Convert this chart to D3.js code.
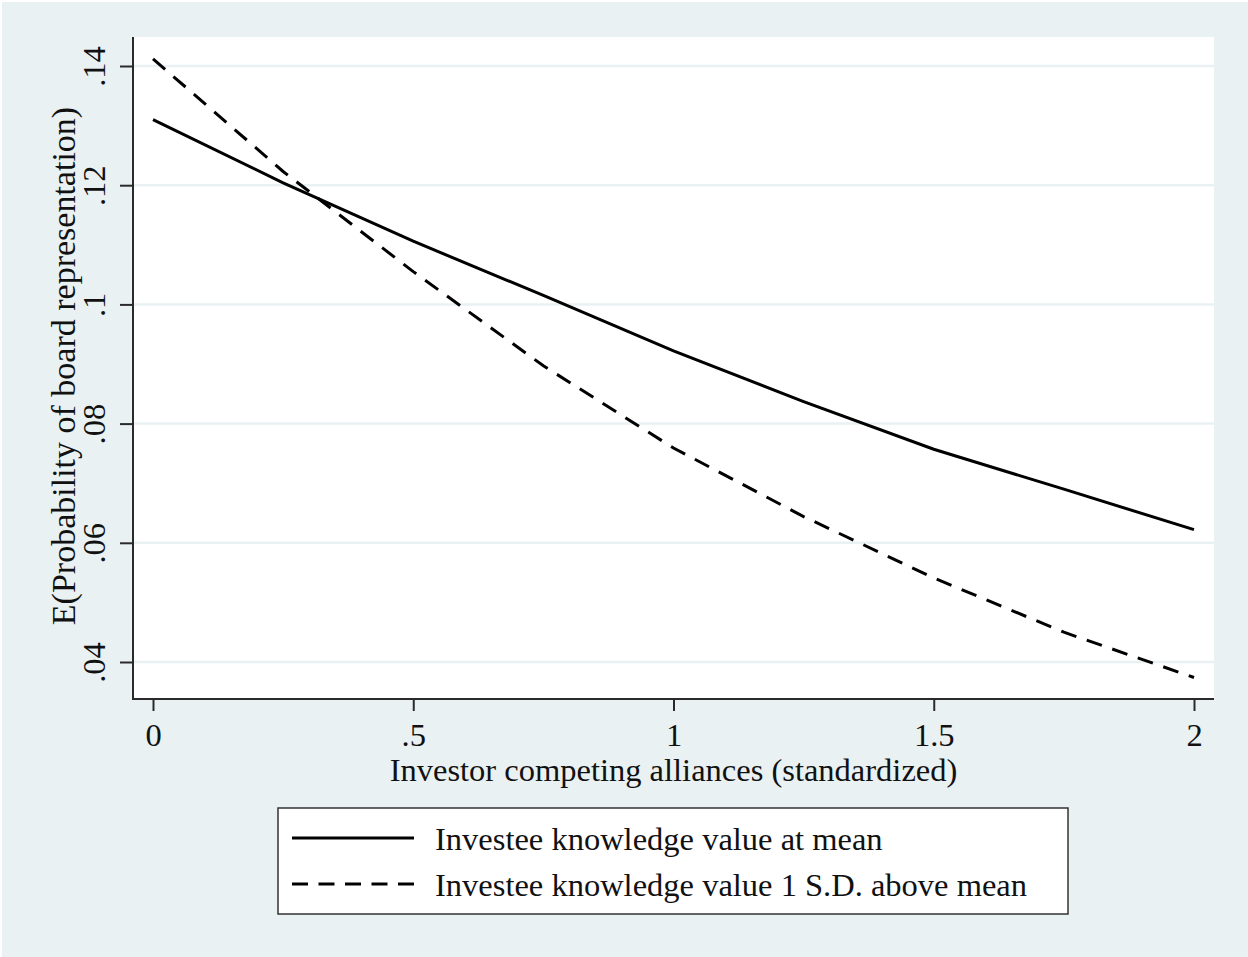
<!DOCTYPE html>
<html>
<head>
<meta charset="utf-8">
<script src="https://cdnjs.cloudflare.com/ajax/libs/d3/7.8.5/d3.min.js"></script>
<style>
  html, body { margin: 0; padding: 0; background: #ffffff; }
  svg { display: block; }
  text { font-family: "Liberation Serif", "Times New Roman", serif; fill: #111; }
</style>
</head>
<body>
<svg id="chart" width="1248" height="957"></svg>
<script>
// Predicted probability of board representation over investor competing alliances
const xValues = [0, 0.25, 0.5, 0.75, 1, 1.25, 1.5, 1.75, 2];
const atMean = [0.1310, 0.1204, 0.1106, 0.1015, 0.0922, 0.0837, 0.0757, 0.0690, 0.0622];
const aboveMean = [0.1412, 0.1223, 0.1055, 0.0897, 0.0759, 0.0644, 0.0541, 0.0450, 0.0374];

const xTicks = [0, 0.5, 1, 1.5, 2];
const xTickLabels = ["0", ".5", "1", "1.5", "2"];
const yTicks = [0.04, 0.06, 0.08, 0.1, 0.12, 0.14];
const yTickLabels = [".04", ".06", ".08", ".1", ".12", ".14"];

const xTitle = "Investor competing alliances (standardized)";
const yTitle = "E(Probability of board representation)";
const seriesNames = ["Investee knowledge value at mean", "Investee knowledge value 1 S.D. above mean"];

const W = 1248, H = 957;
const bg = "#eaf1f3";
const axisColor = "#2a2a2a";
const fontSize = 32.5;

// plot region frame
const plot = { left: 133, right: 1214, top: 37, bottom: 699 };

const svg = d3.select("#chart");

// graph region background with a thin white edge
svg.append("rect").attr("width", W).attr("height", H).attr("fill", "#ffffff");
svg.append("rect").attr("x", 2).attr("y", 2).attr("width", W - 2).attr("height", H - 2).attr("fill", bg);

// plot region
svg.append("rect")
  .attr("x", plot.left).attr("y", plot.top)
  .attr("width", plot.right - plot.left).attr("height", plot.bottom - plot.top)
  .attr("fill", "#ffffff");

const x = d3.scaleLinear().domain([0, 2]).range([153, 1194]);
const y = d3.scaleLinear().domain([0.04, 0.14]).range([662, 66]);

// horizontal grid lines
svg.append("g").selectAll("line").data(yTicks).join("line")
  .attr("x1", plot.left).attr("x2", plot.right)
  .attr("y1", d => y(d)).attr("y2", d => y(d))
  .attr("stroke", bg).attr("stroke-width", 2.5);

// y axis
const yAxis = d3.axisLeft(y).tickValues(yTicks)
  .tickFormat((d, i) => yTickLabels[i]).tickSize(13).tickPadding(0);
const gy = svg.append("g").attr("transform", `translate(${plot.left},0)`).call(yAxis);
gy.select(".domain").remove();
gy.selectAll(".tick line").attr("stroke", axisColor).attr("stroke-width", 2);
gy.selectAll(".tick text")
  .attr("x", 0).attr("y", 0).attr("dy", null)
  .attr("text-anchor", "middle")
  .attr("transform", "translate(-28,0) rotate(-90)")
  .style("font-family", "'Liberation Serif', serif")
  .style("font-size", fontSize + "px")
  .attr("fill", "#111");
svg.append("line")
  .attr("x1", plot.left).attr("x2", plot.left)
  .attr("y1", plot.top).attr("y2", plot.bottom + 1)
  .attr("stroke", axisColor).attr("stroke-width", 2);

// x axis
const xAxis = d3.axisBottom(x).tickValues(xTicks)
  .tickFormat((d, i) => xTickLabels[i]).tickSize(12).tickPadding(0);
const gx = svg.append("g").attr("transform", `translate(0,${plot.bottom})`).call(xAxis);
gx.select(".domain").remove();
gx.selectAll(".tick line").attr("stroke", axisColor).attr("stroke-width", 2);
gx.selectAll(".tick text")
  .attr("y", 47).attr("dy", null)
  .style("font-family", "'Liberation Serif', serif")
  .style("font-size", fontSize + "px")
  .attr("fill", "#111");
svg.append("line")
  .attr("x1", plot.left - 1).attr("x2", plot.right)
  .attr("y1", plot.bottom).attr("y2", plot.bottom)
  .attr("stroke", axisColor).attr("stroke-width", 2);

// axis titles
svg.append("text")
  .attr("x", (x(0) + x(2)) / 2).attr("y", 781)
  .attr("text-anchor", "middle")
  .style("font-size", fontSize + "px")
  .text(xTitle);
svg.append("text")
  .attr("transform", "translate(75,366) rotate(-90)")
  .attr("text-anchor", "middle")
  .style("font-size", "34px")
  .text(yTitle);

// curves
const line = d3.line().x(d => x(d[0])).y(d => y(d[1]));
const series = [
  { name: seriesNames[0], values: atMean, dash: null },
  { name: seriesNames[1], values: aboveMean, dash: "16 11" }
];
svg.append("g").selectAll("path").data(series).join("path")
  .attr("d", s => line(xValues.map((xv, i) => [xv, s.values[i]])))
  .attr("fill", "none")
  .attr("stroke", "#000")
  .attr("stroke-width", 3)
  .attr("stroke-dasharray", s => s.dash);

// legend
const legend = svg.append("g");
legend.append("rect")
  .attr("x", 278).attr("y", 808).attr("width", 790).attr("height", 106)
  .attr("fill", "#ffffff").attr("stroke", "#333").attr("stroke-width", 1.5);
const rows = legend.selectAll("g.row").data(series).join("g")
  .attr("class", "row")
  .attr("transform", (d, i) => `translate(0,${838 + i * 46})`);
rows.append("line")
  .attr("x1", 292).attr("x2", 414).attr("y1", 0).attr("y2", 0)
  .attr("stroke", "#000").attr("stroke-width", 3)
  .attr("stroke-dasharray", d => d.dash ? "16 10.5" : null);
rows.append("text")
  .attr("x", 435).attr("y", 11.5)
  .style("font-size", fontSize + "px")
  .text(d => d.name);
</script>
</body>
</html>
